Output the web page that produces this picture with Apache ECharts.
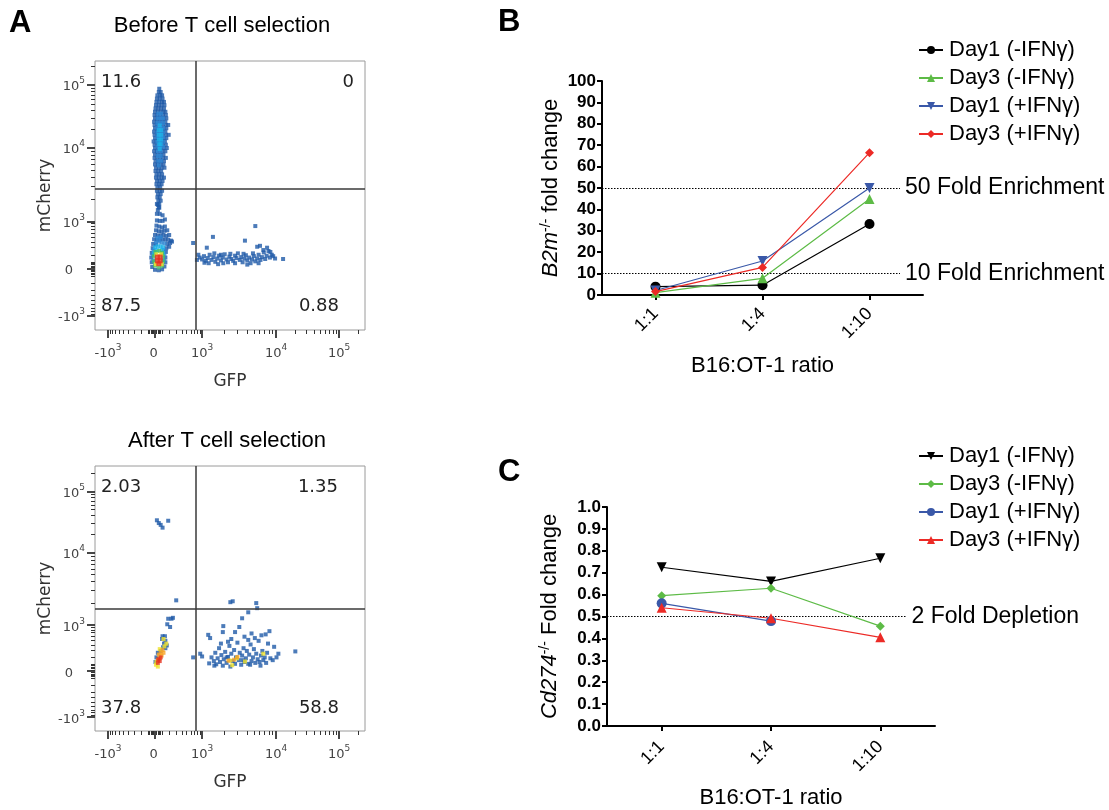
<!DOCTYPE html>
<html><head><meta charset="utf-8">
<script src="https://cdn.jsdelivr.net/npm/echarts@6/dist/echarts.min.js"></script>
<style>html,body{margin:0;padding:0;background:#fff}#c{width:1109px;height:810px}</style>
</head><body><div id="c"></div>
<script>
// ---------- DATA ----------
const ratios = ['1:1', '1:4', '1:10'];
const seriesNames = ['Day1 (-IFNγ)', 'Day3 (-IFNγ)', 'Day1 (+IFNγ)', 'Day3 (+IFNγ)'];
const b2mDay1Minus = [3.9, 4.6, 33.2];
const b2mDay3Minus = [1.1, 7.8, 44.9];
const b2mDay1Plus  = [2.1, 15.9, 50.0];
const b2mDay3Plus  = [1.6, 12.9, 66.5];
const cd274Day1Minus = [0.725, 0.660, 0.766];
const cd274Day3Minus = [0.595, 0.629, 0.456];
const cd274Day1Plus  = [0.560, 0.479, null];
const cd274Day3Plus  = [0.540, 0.492, 0.405];
const b2mRefValues = [50, 10];
const b2mRefLabels = ['50 Fold Enrichment', '10 Fold Enrichment'];
const cd274RefValues = [0.5];
const cd274RefLabels = ['2 Fold Depletion'];

// flow cytometry: display (biexponential) units, tick labels
const flowMajorTicks = [-1, 0, 1, 2.57, 3.91];
const flowTickLabels = ['-10^3', '0', '10^3', '10^4', '10^5'];
const flowMinorTicks = [-0.96,-0.9,-0.84,-0.76,-0.67,-0.57,-0.45,-0.3,-0.15,-0.12,-0.09,-0.06,-0.03,
  0.03,0.06,0.09,0.12,0.15,0.3,0.45,0.57,0.67,0.76,0.84,0.9,0.96,
  1.47,1.75,1.95,2.10,2.22,2.33,2.42,2.50,2.97,3.21,3.38,3.51,3.61,3.70,3.78,3.85,4.31];
const quadrantTop = ['11.6', '0', '87.5', '0.88'];
const quadrantBottom = ['2.03', '1.35', '37.8', '58.8'];
const gateTop = [0.87, 1.70];
const gateBottom = [0.87, 1.36];

// Before selection: mCherry+ stripe rows [y, [x...]]
const topStripeRows = [
 [3.83,[0.09]],[3.76,[0.08,0.12]],[3.69,[0.05,0.11,0.15]],[3.62,[0.04,0.10,0.16]],
 [3.55,[0.03,0.09,0.15,0.19]],[3.48,[0.02,0.08,0.14,0.20]],[3.41,[0.01,0.07,0.13,0.19]],
 [3.34,[0.00,0.06,0.12,0.18,0.22]],[3.27,[-0.01,0.05,0.11,0.17,0.23]],[3.20,[0.00,0.06,0.12,0.18,0.24]],
 [3.13,[-0.02,0.04,0.10,0.16,0.22]],[3.06,[-0.01,0.05,0.11,0.17,0.23,0.28]],[2.99,[0.00,0.06,0.12,0.18,0.24]],
 [2.92,[-0.02,0.04,0.10,0.16,0.22]],[2.85,[-0.01,0.05,0.11,0.17,0.23,0.29]],[2.78,[0.00,0.06,0.12,0.18,0.24]],
 [2.71,[-0.03,0.03,0.09,0.15,0.21]],[2.64,[-0.01,0.05,0.11,0.17,0.23]],[2.57,[0.00,0.06,0.12,0.18,0.25]],
 [2.50,[-0.02,0.04,0.10,0.16,0.22]],[2.43,[0.00,0.06,0.12,0.18]],[2.36,[-0.01,0.05,0.11,0.17,0.23]],
 [2.29,[0.01,0.07,0.13,0.19]],[2.22,[0.00,0.06,0.12,0.18]],[2.15,[0.02,0.08,0.14,0.20]],
 [2.08,[0.01,0.07,0.13]],[2.01,[0.03,0.09,0.15]],[1.94,[0.02,0.08,0.14,0.19]],[1.87,[0.04,0.10,0.16]],
 [1.80,[0.03,0.09,0.14]],[1.73,[0.05,0.11]],[1.66,[0.04,0.10,0.15]],[1.59,[0.06,0.12]],
 [1.52,[0.05,0.10]],[1.45,[0.07,0.12]],[1.38,[0.04,0.09]],[1.31,[0.08]],[1.25,[0.06]]
];
const topStripeLightRows = [
 [3.30,[0.07,0.13]],[3.20,[0.06,0.12,0.17]],[3.10,[0.05,0.11,0.17]],[3.00,[0.05,0.11,0.17]],
 [2.90,[0.05,0.11,0.17]],[2.80,[0.05,0.11,0.17]],[2.70,[0.05,0.11,0.17]],[2.60,[0.05,0.11,0.17]],
 [2.50,[0.06,0.12]],[2.40,[0.06,0.12]],[2.30,[0.07,0.13]],[2.20,[0.08]]
];
const topStripeCyanRows = [
 [3.05,[0.10]],[2.95,[0.08,0.13]],[2.85,[0.08,0.13]],[2.75,[0.08,0.13]],[2.65,[0.09,0.12]],[2.55,[0.10]]
];
const topBlue = [
 [0.06,1.36],[0.09,1.30],[0.04,1.17],[0.10,1.17],[0.16,1.14],[0.04,1.03],[0.10,1.02],[0.16,1.02],[0.21,1.05],
 [0.03,0.92],[0.09,0.90],[0.15,0.88],[0.21,0.90],[0.02,0.82],[0.08,0.80],[0.14,0.79],[0.20,0.81],[0.26,0.82],
 [0.00,0.72],[0.06,0.71],[0.12,0.70],[0.18,0.72],[0.24,0.70],[0.30,0.72],
 [-0.02,0.63],[0.04,0.62],[0.10,0.62],[0.16,0.63],[0.22,0.62],[0.28,0.62],[0.34,0.60],
 [-0.04,0.53],[0.02,0.52],[0.26,0.53],[0.32,0.55],[0.36,0.58],[-0.05,0.44],[0.24,0.44],[0.30,0.47],
 [-0.07,0.34],[0.23,0.36],[-0.08,0.24],[0.22,0.24],[-0.07,0.14],[0.22,0.14],[-0.06,0.04],[0.20,0.05],
 [0.00,-0.02],[0.08,-0.03],[0.15,-0.01],
 [0.89,0.19],[0.95,0.24],[1.00,0.20],[1.04,0.27],[1.08,0.17],[1.12,0.23],[1.16,0.30],[1.20,0.19],[1.24,0.25],
 [1.28,0.15],[1.32,0.22],[1.36,0.28],[1.40,0.18],[1.44,0.24],[1.48,0.31],[1.52,0.20],[1.55,0.14],[1.58,0.26],
 [1.62,0.21],[1.66,0.17],[1.70,0.28],[1.73,0.23],[1.76,0.33],[1.80,0.19],[1.83,0.25],[1.86,0.14],[1.90,0.22],
 [1.93,0.29],[1.96,0.18],[2.00,0.24],[2.03,0.12],[2.06,0.20],[2.10,0.27],[2.13,0.16],[2.17,0.22],[2.20,0.30],
 [2.24,0.19],[2.27,0.25],[2.31,0.35],[2.34,0.21],[2.37,0.28],[2.41,0.38],[2.44,0.24],[2.48,0.30],[2.51,0.27],
 [2.55,0.22],[2.72,0.21],[1.10,0.45],[1.23,0.68],[2.13,0.91],[1.91,0.60],[0.81,0.55],[2.17,0.47],[2.23,0.49],
 [2.38,0.45],[2.45,0.36],[2.30,0.40],[1.40,0.30],[1.60,0.32],[1.45,0.12],[1.70,0.12],[1.88,0.32],[2.08,0.33],
 [1.26,0.33],[1.05,0.13],[0.92,0.30],[1.34,0.10],[2.20,0.12],[1.96,0.09],[1.14,0.12]
];
const topLight = [[0.02,0.56],[0.08,0.58],[0.14,0.56],[0.20,0.54],[0.05,0.66],[0.12,0.67],[-0.03,0.40],[0.19,0.40],
 [-0.05,0.30],[0.20,0.30],[-0.04,0.18],[0.19,0.18]];
const topCyan = [[0.00,0.46],[0.06,0.48],[0.12,0.48],[0.17,0.46],[0.04,0.40],[0.14,0.40],[-0.02,0.34],[0.17,0.34]];
const topGreen = [[0.01,0.36],[0.09,0.38],[0.15,0.34],[-0.02,0.27],[0.17,0.26],[-0.02,0.16],[0.17,0.16],
 [0.00,0.07],[0.15,0.07],[0.08,0.03]];
const topYellow = [[0.03,0.31],[0.13,0.31],[0.02,0.10],[0.14,0.10]];
const topRed = [[0.05,0.25],[0.11,0.25],[0.05,0.17],[0.11,0.17],[0.08,0.11]];

// After selection
const botBlue = [
 [0.04,3.28],[0.08,3.22],[0.12,3.18],[0.16,3.12],[0.28,3.27],[0.45,1.54],
 [1.60,1.50],[1.65,1.52],[1.98,1.28],[2.15,1.48],[2.17,1.37],[1.85,1.15],
 [0.28,1.14],[0.35,1.14],[0.38,1.16],[0.26,1.02],[0.32,0.96],[0.16,0.76],[0.21,0.76],[0.15,0.70],[0.22,0.66],
 [0.19,0.60],[0.25,0.56],[0.17,0.52],[0.12,0.44],[0.06,0.40],[0.03,0.30],[0.01,0.20],[0.22,0.50],
 [0.81,0.30],[0.96,0.38],[1.00,0.32],[1.15,0.17],[1.13,0.79],[1.17,0.72],[1.45,0.98],[1.44,0.85],[1.79,0.96],
 [2.43,0.87],[2.53,0.53],[2.62,0.38],[2.98,0.43],[2.58,0.30],[2.50,0.24],
 [1.20,0.30],[1.25,0.22],[1.28,0.40],[1.30,0.15],[1.33,0.28],[1.36,0.50],[1.38,0.20],[1.41,0.35],[1.44,0.12],
 [1.46,0.26],[1.49,0.42],[1.52,0.18],[1.55,0.31],[1.58,0.55],[1.60,0.10],[1.62,0.38],[1.65,0.22],[1.68,0.46],
 [1.70,0.16],[1.72,0.30],[1.75,0.62],[1.78,0.24],[1.80,0.40],[1.83,0.14],[1.85,0.34],[1.88,0.50],[1.90,0.20],
 [1.93,0.28],[1.95,0.44],[1.98,0.16],[2.00,0.36],[2.03,0.58],[2.05,0.22],[2.08,0.30],[2.10,0.48],[2.13,0.18],
 [2.15,0.38],[2.18,0.26],[2.20,0.66],[2.22,0.20],[2.25,0.34],[2.28,0.44],[2.30,0.24],[2.33,0.30],[2.36,0.18],
 [2.38,0.40],[2.40,0.60],[2.45,0.28],[1.62,0.70],[1.90,0.75],[2.12,0.72],[1.55,0.64],[2.26,0.78],[2.35,0.80],
 [1.40,0.60],[1.70,0.85],[1.98,0.68],[2.05,0.82],[1.26,0.12],[1.52,0.30],[1.86,0.24],[2.02,0.14],[2.24,0.12]
];
const botYellow = [[0.18,0.70],[0.24,0.60],[0.20,0.54],[0.02,0.14],[0.06,0.10],[0.03,0.20],[0.10,0.48],
 [1.60,0.23],[1.74,0.28],[1.91,0.21],[2.30,0.38],[1.64,0.13]];
const botOrange = [[0.16,0.46],[0.12,0.40],[0.14,0.34],[0.08,0.36],[0.18,0.40],[0.10,0.28],[0.06,0.24],
 [1.56,0.23],[1.75,0.31],[1.68,0.25]];
const botRed = [[0.07,0.26],[0.10,0.22],[0.06,0.18],[0.12,0.30]];

// ---------- STYLE ----------
const FF = '"Liberation Sans", Arial, Helvetica, sans-serif';
const FFF = '"DejaVu Sans", Verdana, sans-serif';
const BLACK = '#000000', GREEN = '#5dbb46', BLUE = '#3a58a8', RED = '#ec2a26';
const C_BLUE = '#1f5aa8', C_LIGHT = '#2e86d2', C_CYAN = '#1db3e8', C_GREEN = '#45bf62',
      C_YELLOW = '#f0e229', C_ORANGE = '#f6a425', C_RED = '#e5311f';

function rowsToPoints(rows) { const out = []; rows.forEach(r => r[1].forEach(x => out.push([x, r[0]]))); return out; }

const flowRich = {
  b: { fontSize: 13, color: '#444', fontFamily: FFF, verticalAlign: 'bottom' },
  s: { fontSize: 9, color: '#444', fontFamily: FFF, verticalAlign: 'top', padding: [0, 0, 8, 0] },
  p: { fontSize: 9, width: 12, verticalAlign: 'top', padding: [0, 0, 8, 0] }
};
function flowFmtFactory(isY) {
  return function (v) {
    const i = flowMajorTicks.findIndex(t => Math.abs(t - v) < 1e-6);
    if (i < 0) return '';
    const p = flowTickLabels[i].split('^');
    if (!p[1]) return '{b|' + p[0] + '}' + (isY ? '{p|}' : '{s| }');
    return '{b|' + p[0] + '}{s|' + p[1] + '}';
  };
}
const FX = [-1.275, 4.46];

function flowAxes(g, yMin, yMax) {
  const common = { gridIndex: g, type: 'value', axisLine: { show: false, onZero: false }, splitLine: { show: false } };
  const x = [
    Object.assign({}, common, { position: 'bottom', min: FX[0], max: FX[1],
      axisTick: { show: true, length: 8, customValues: flowMajorTicks, lineStyle: { color: '#333', width: 1.8 } },
      axisLabel: { show: true, customValues: flowMajorTicks, formatter: flowFmtFactory(false), margin: 13, rich: flowRich },
      name: 'GFP', nameLocation: 'middle', nameGap: 43,
      nameTextStyle: { fontSize: 17, color: '#333', fontFamily: FFF } }),
    Object.assign({}, common, { position: 'bottom', min: FX[0], max: FX[1],
      axisTick: { show: true, length: 4, customValues: flowMinorTicks, lineStyle: { color: '#333', width: 1 } },
      axisLabel: { show: false } })
  ];
  const y = [
    Object.assign({}, common, { position: 'left', min: yMin, max: yMax,
      axisTick: { show: true, length: 8, customValues: flowMajorTicks, lineStyle: { color: '#333', width: 1.8 } },
      axisLabel: { show: true, customValues: flowMajorTicks, formatter: flowFmtFactory(true), margin: 10, rich: flowRich },
      name: 'mCherry', nameLocation: 'middle', nameGap: 40,
      nameTextStyle: { fontSize: 17, color: '#333', fontFamily: FFF } }),
    Object.assign({}, common, { position: 'left', min: yMin, max: yMax,
      axisTick: { show: true, length: 4, customValues: flowMinorTicks, lineStyle: { color: '#333', width: 1 } },
      axisLabel: { show: false } })
  ];
  return { x, y };
}
const aTop = flowAxes(0, -1.30, 4.42);
const aBot = flowAxes(1, -1.30, 4.46);

function dots(data, color, size, xi, yi) {
  return { type: 'scatter', xAxisIndex: xi, yAxisIndex: yi, data, symbol: 'rect', symbolSize: size,
    itemStyle: { color }, silent: true, z: 3 };
}
function gate(g, xi, yi) {
  return { type: 'scatter', xAxisIndex: xi, yAxisIndex: yi, data: [], z: 4,
    markLine: { symbol: ['none', 'none'], silent: true, animation: false, label: { show: false },
      lineStyle: { color: '#3a3a3a', width: 1.5, type: 'solid' },
      data: [{ xAxis: g[0] }, { yAxis: g[1] }] } };
}

// ---------- B / C axes ----------
function catAxis(g) {
  return { gridIndex: g, type: 'category', data: ratios, boundaryGap: true,
    axisLine: { show: true, lineStyle: { color: '#000', width: 2 } },
    axisTick: { show: true, alignWithLabel: true, length: 5, lineStyle: { color: '#000', width: 2 } },
    axisLabel: { rotate: 45, fontSize: 18, color: '#000', fontFamily: FF, margin: g === 2 ? 16 : 18 },
    name: 'B16:OT-1 ratio', nameLocation: 'middle', nameGap: g === 2 ? 60 : 61,
    nameTextStyle: { fontSize: 22, color: '#000', fontFamily: FF } };
}
function hiddenAxis(g) { return { gridIndex: g, type: 'value', min: 0, max: 3, show: false }; }
function valAxis(g, max, interval, dec, nameRich) {
  return { gridIndex: g, type: 'value', min: 0, max, interval,
    axisLine: { show: true, lineStyle: { color: '#000', width: 2 } },
    axisTick: { show: true, length: 5, lineStyle: { color: '#000', width: 2 } },
    splitLine: { show: false },
    axisLabel: { fontSize: 17, fontWeight: 'bold', color: '#000', fontFamily: FF, margin: 6,
      formatter: v => v.toFixed(dec) },
    name: nameRich, nameLocation: 'middle', nameGap: g === 2 ? 40 : 46,
    nameTextStyle: { color: '#000', fontFamily: FF,
      rich: { i: { fontStyle: 'italic', fontSize: 22, fontFamily: FF, color: '#000' },
              s: { fontSize: 14, fontFamily: FF, color: '#000', verticalAlign: 'top', padding: [0, 0, 9, 0] },
              n: { fontSize: 22, fontFamily: FF, color: '#000' } } } };
}

function lineSeries(name, data, color, symbol, size, rot, xi, yi) {
  return { type: 'line', name, data, xAxisIndex: xi, yAxisIndex: yi, symbol, symbolSize: size,
    symbolRotate: rot, showAllSymbol: true, lineStyle: { color, width: 1.2 }, itemStyle: { color },
    z: 5, silent: true };
}
function refSeries(values, labels, xEnd, xi, yi) {
  return { type: 'scatter', xAxisIndex: xi, yAxisIndex: yi, data: [], z: 2,
    markLine: { symbol: ['none', 'none'], silent: true, animation: false,
      lineStyle: { color: '#000', width: 1, type: [1.5, 1.5] },
      label: { show: true, position: 'end', formatter: '{b}', fontSize: 23, color: '#000', fontFamily: FF, distance: 5 },
      data: values.map((v, i) => [{ name: labels[i], coord: [0, v] }, { coord: [xEnd, v] }]) } };
}

const cNames = seriesNames.map(n => 'C:' + n);

const txt = (text, x, y, font, align, fill) => ({ type: 'text', silent: true,
  style: { text, x, y, font, fill: fill || '#000', align: align || 'left', textAlign: align || 'left',
    verticalAlign: 'middle', textVerticalAlign: 'middle' } });

const legendText = { fontSize: 22, lineHeight: 22, color: '#000', fontFamily: FF, padding: [0, 0, 0, 1] };
const option = {
  animation: false,
  backgroundColor: '#fff',
  grid: [
    { left: 95, top: 61, width: 270, height: 269, show: true, borderColor: '#9a9a9a', borderWidth: 1 },
    { left: 95, top: 466, width: 270, height: 265, show: true, borderColor: '#9a9a9a', borderWidth: 1 },
    { left: 602, top: 81, width: 321, height: 214 },
    { left: 607, top: 507, width: 328, height: 219 }
  ],
  xAxis: [aTop.x[0], aTop.x[1], aBot.x[0], aBot.x[1], catAxis(2), hiddenAxis(2), catAxis(3), hiddenAxis(3)],
  yAxis: [aTop.y[0], aTop.y[1], aBot.y[0], aBot.y[1],
    valAxis(2, 100, 10, 0, '{i|B2m}{s|-/-}{n| fold change}'),
    valAxis(3, 1.0, 0.1, 1, '{i|Cd274}{s|-/-}{n| Fold change}')],
  legend: [
    { data: seriesNames, orient: 'vertical', left: 913, top: 34, itemWidth: 24, itemHeight: 10, itemGap: 6,
      selectedMode: false, textStyle: legendText },
    { data: cNames, orient: 'vertical', left: 913, top: 440, itemWidth: 24, itemHeight: 10, itemGap: 6,
      selectedMode: false, formatter: n => n.replace('C:', ''), textStyle: legendText }
  ],
  series: [
    dots(rowsToPoints(topStripeRows).concat(topBlue), C_BLUE, 4, 0, 0),
    dots(rowsToPoints(topStripeLightRows).concat(topLight), C_LIGHT, 4, 0, 0),
    dots(rowsToPoints(topStripeCyanRows).concat(topCyan), C_CYAN, 4, 0, 0),
    dots(topGreen, C_GREEN, 4, 0, 0),
    dots(topYellow, C_YELLOW, 4, 0, 0),
    dots(topRed, C_RED, 5, 0, 0),
    gate(gateTop, 0, 0),
    dots(botBlue, C_BLUE, 4, 2, 2),
    dots(botYellow, C_YELLOW, 4, 2, 2),
    dots(botOrange, C_ORANGE, 4, 2, 2),
    dots(botRed, C_RED, 4, 2, 2),
    gate(gateBottom, 2, 2),
    refSeries(b2mRefValues, b2mRefLabels, 2.785, 5, 4),
    lineSeries(seriesNames[0], b2mDay1Minus, BLACK, 'circle', 10, 0, 4, 4),
    lineSeries(seriesNames[1], b2mDay3Minus, GREEN, 'triangle', 10, 0, 4, 4),
    lineSeries(seriesNames[2], b2mDay1Plus, BLUE, 'triangle', 10, 180, 4, 4),
    lineSeries(seriesNames[3], b2mDay3Plus, RED, 'diamond', 9, 0, 4, 4),
    refSeries(cd274RefValues, cd274RefLabels, 2.74, 7, 5),
    lineSeries(cNames[0], cd274Day1Minus, BLACK, 'triangle', 10, 180, 6, 5),
    lineSeries(cNames[1], cd274Day3Minus, GREEN, 'diamond', 9, 0, 6, 5),
    lineSeries(cNames[2], cd274Day1Plus, BLUE, 'circle', 10, 0, 6, 5),
    lineSeries(cNames[3], cd274Day3Plus, RED, 'triangle', 10, 0, 6, 5)
  ],
  graphic: [
    txt('A', 9, 23, 'bold 31px ' + FF),
    txt('B', 498, 22, 'bold 31px ' + FF),
    txt('C', 498, 472, 'bold 31px ' + FF),
    txt('Before T cell selection', 222, 26, '22px ' + FF, 'center'),
    txt('After T cell selection', 227, 441, '22px ' + FF, 'center'),
    txt(quadrantTop[0], 101, 82, '18px ' + FFF, 'left', '#222'),
    txt(quadrantTop[1], 354, 82, '18px ' + FFF, 'right', '#222'),
    txt(quadrantTop[2], 101, 306, '18px ' + FFF, 'left', '#222'),
    txt(quadrantTop[3], 339, 306, '18px ' + FFF, 'right', '#222'),
    txt(quadrantBottom[0], 101, 487, '18px ' + FFF, 'left', '#222'),
    txt(quadrantBottom[1], 338, 487, '18px ' + FFF, 'right', '#222'),
    txt(quadrantBottom[2], 101, 708, '18px ' + FFF, 'left', '#222'),
    txt(quadrantBottom[3], 339, 708, '18px ' + FFF, 'right', '#222')
  ]
};
const chart = echarts.init(document.getElementById('c'));
chart.setOption(option);
</script></body></html>
